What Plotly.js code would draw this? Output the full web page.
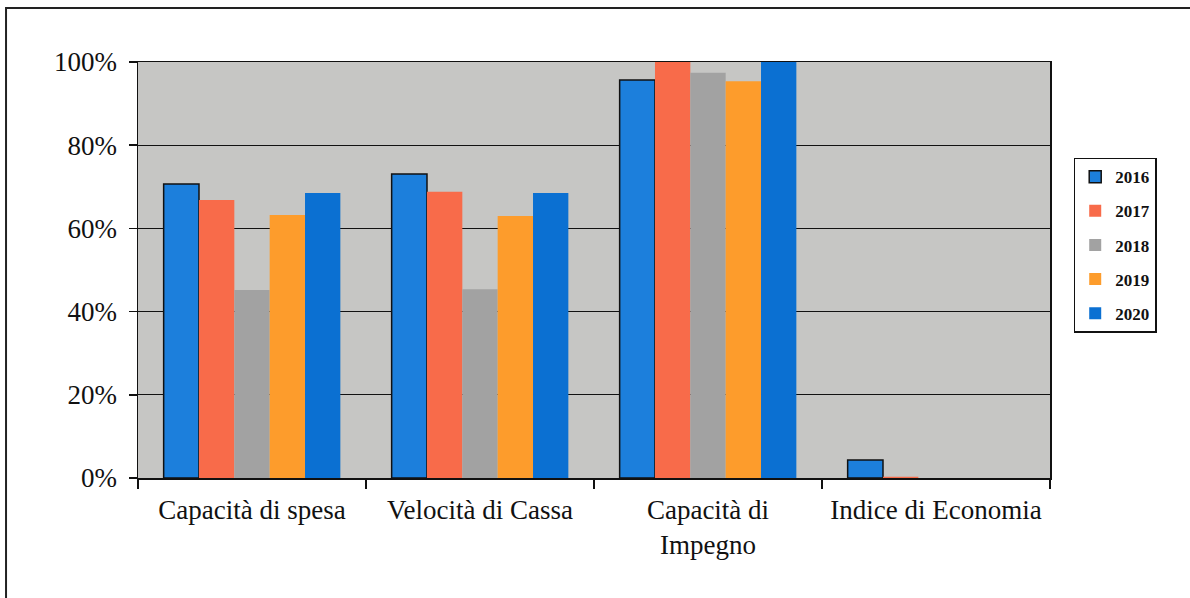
<!DOCTYPE html>
<html>
<head>
<meta charset="utf-8">
<script src="https://cdn.plot.ly/plotly-3.0.1.min.js"></script>
<style>html,body{margin:0;padding:0;background:#fff;}</style>
</head>
<body>
<div id="chart" style="width:1190px;height:598px;"></div>
<script>
const categories = ["Capacità di spesa", "Velocità di Cassa", "Capacità di<br>Impegno", "Indice di Economia"];
const years = ["2016", "2017", "2018", "2019", "2020"];
const v2016 = [70.7, 73.1, 95.7, 4.3];
const v2017 = [66.8, 68.8, 100, 0.3];
const v2018 = [45.2, 45.4, 97.4, 0];
const v2019 = [63.2, 63.0, 95.4, 0];
const v2020 = [68.5, 68.5, 100, 0];
const yTickVals = [0, 20, 40, 60, 80, 100];
const yTickText = ["0%", "20%", "40%", "60%", "80%", "100%"];
const colors = ["#1c7fdc", "#f86b4a", "#a2a2a2", "#fd9c2c", "#0b70d2"];
const outlineW = [1.5, 0, 0, 0, 0];
const series = [v2016, v2017, v2018, v2019, v2020];

const traces = series.map((vals, i) => ({
  type: "bar",
  name: years[i],
  x: categories,
  y: vals,
  legendgroup: years[i],
  marker: {color: colors[i], line: {color: "#111", width: outlineW[i]}},
  hoverinfo: "skip"
}));

const layout = {
  width: 1190, height: 598,
  margin: {l: 138, r: 140, t: 62, b: 120, pad: 0},
  paper_bgcolor: "#ffffff",
  plot_bgcolor: "#c6c6c4",
  barmode: "group",
  bargap: 0.225,
  bargroupgap: 0,
  font: {family: "Liberation Serif, Times New Roman, serif", color: "#111"},
  xaxis: {
    type: "category",
    showline: true, linecolor: "#111", linewidth: 1.5, mirror: true,
    ticks: "outside", tickson: "boundaries", ticklen: 9, tickcolor: "#111", tickwidth: 1.5,
    tickangle: 0,
    ticklabelstandoff: 7,
    tickfont: {size: 27, family: "Liberation Serif, serif", color: "#111"},
    showgrid: false, zeroline: false, fixedrange: true
  },
  yaxis: {
    range: [0, 100],
    tickmode: "array",
    tickvals: yTickVals,
    ticktext: yTickText,
    showline: true, linecolor: "#111", linewidth: 1.5, mirror: true,
    ticks: "outside", ticklen: 8, tickcolor: "#111", tickwidth: 1.5,
    ticklabelstandoff: 6,
    tickfont: {size: 27, family: "Liberation Serif, serif", color: "#111"},
    showgrid: true, gridcolor: "#111", gridwidth: 1,
    zeroline: false, fixedrange: true
  },
  legend: {
    x: 1.026, xanchor: "left", y: 0.77, yanchor: "top",
    bordercolor: "#111", borderwidth: 1.5, bgcolor: "#fff",
    font: {size: 17, family: "Liberation Serif, serif", color: "#111", weight: "bold"},
    traceorder: "grouped", tracegroupgap: 9,
    itemwidth: 30
  },
  shapes: [{
    type: "rect", xref: "paper", yref: "paper",
    x0: -0.1447, x1: 1.3, y0: -0.5, y1: 1.1298,
    line: {color: "#222", width: 2}, fillcolor: "rgba(0,0,0,0)", layer: "below"
  }],
  showlegend: true
};

Plotly.newPlot("chart", traces, layout, {displayModeBar: false, staticPlot: true});
</script>
</body>
</html>
